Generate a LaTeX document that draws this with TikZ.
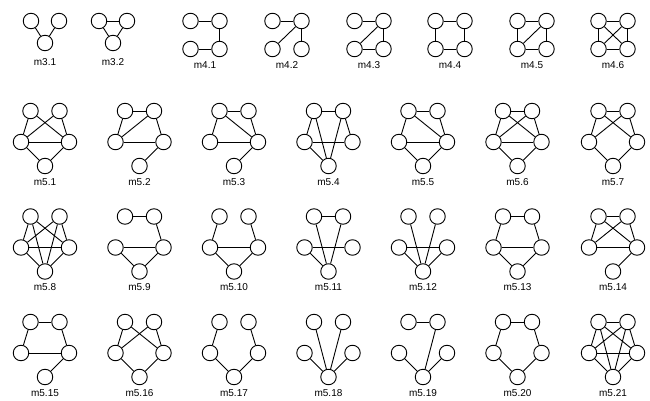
\documentclass[tikz,border=0pt]{standalone}
\usepackage{fontspec}
\setmainfont{Liberation Sans}
\usepackage{tikz}

% three, four and five vertex motifs: name, x, (top y), label
\newcommand{\triad}[3]{
\node[vtx] (#1a) at (#2-14,21) {};
\node[vtx] (#1b) at (#2+14,21) {};
\node[vtx] (#1c) at (#2,43) {};
\node[lbl] (#1l) at (#2,62) {#3};}
\newcommand{\tetrad}[3]{
\node[vtx] (#1a) at (#2-14.5,21) {};
\node[vtx] (#1b) at (#2+14.5,21) {};
\node[vtx] (#1c) at (#2-14.5,49) {};
\node[vtx] (#1d) at (#2+14.5,49) {};
\node[lbl] (#1l) at (#2,65) {#3};}
\newcommand{\pentad}[4]{
\node[vtx] (#1a) at (#2-14.5,#3) {};
\node[vtx] (#1b) at (#2+14.5,#3) {};
\node[vtx] (#1c) at (#2-24,#3+31) {};
\node[vtx] (#1d) at (#2+24,#3+31) {};
\node[vtx] (#1e) at (#2,#3+55) {};
\node[lbl] (#1l) at (#2,#3+71) {#4};}
\newcommand{\links}[2]{\foreach \u/\v in {#2} \draw[edge] (#1\u) -- (#1\v);}

\begin{document}
\begin{tikzpicture}[x=1pt,y=-1pt,
  vtx/.style={circle,draw,fill=white,line width=0.9pt,minimum size=15.5pt,inner sep=0pt},
  lbl/.style={font=\fontsize{10}{11}\selectfont,inner sep=0pt},
  edge/.style={line width=0.9pt}]
\useasboundingbox (0,0) rectangle (650,401);

\triad{m3p1}{45}{m3.1}
\triad{m3p2}{113}{m3.2}
\links{m3p1}{a/c,b/c}
\links{m3p2}{a/b,a/c,b/c}

\tetrad{m4p1}{205}{m4.1}
\tetrad{m4p2}{287}{m4.2}
\tetrad{m4p3}{369}{m4.3}
\tetrad{m4p4}{450}{m4.4}
\tetrad{m4p5}{532}{m4.5}
\tetrad{m4p6}{613}{m4.6}
\links{m4p1}{a/b,b/d,c/d}
\links{m4p2}{a/b,b/c,b/d}
\links{m4p3}{a/b,b/c,b/d,c/d}
\links{m4p4}{a/b,b/d,d/c,c/a}
\links{m4p5}{a/b,a/c,b/c,b/d,c/d}
\links{m4p6}{a/b,a/c,a/d,b/c,b/d,c/d}

\pentad{m5p1}{45}{111}{m5.1}
\pentad{m5p2}{139.5}{111}{m5.2}
\pentad{m5p3}{234}{111}{m5.3}
\pentad{m5p4}{328.5}{111}{m5.4}
\pentad{m5p5}{423}{111}{m5.5}
\pentad{m5p6}{517.5}{111}{m5.6}
\pentad{m5p7}{613}{111}{m5.7}
\links{m5p1}{a/c,b/d,a/d,b/c,c/d,c/e,d/e}
\links{m5p2}{a/b,a/c,b/c,b/d,c/d,d/e}
\links{m5p3}{a/b,a/c,a/d,b/d,c/d,d/e}
\links{m5p4}{a/b,a/c,a/e,b/e,b/d,c/d,c/e}
\links{m5p5}{a/b,a/c,a/d,b/d,c/d,c/e,d/e}
\links{m5p6}{a/b,a/c,a/d,b/c,b/d,c/d,c/e,d/e}
\links{m5p7}{a/b,a/c,a/d,b/c,b/d,c/e,d/e}

\pentad{m5p8}{45}{216.5}{m5.8}
\pentad{m5p9}{139.5}{216.5}{m5.9}
\pentad{m5p10}{234}{216.5}{m5.10}
\pentad{m5p11}{328.5}{216.5}{m5.11}
\pentad{m5p12}{423}{216.5}{m5.12}
\pentad{m5p13}{517.5}{216.5}{m5.13}
\pentad{m5p14}{613}{216.5}{m5.14}
\links{m5p8}{a/c,a/d,a/e,b/c,b/d,b/e,c/d,c/e,d/e}
\links{m5p9}{a/b,b/d,c/d,c/e,d/e}
\links{m5p10}{a/c,b/d,c/d,c/e,d/e}
\links{m5p11}{a/b,a/e,b/e,c/d,c/e}
\links{m5p12}{a/e,b/e,c/d,c/e,d/e}
\links{m5p13}{a/b,a/c,b/d,c/d,c/e,d/e}
\links{m5p14}{a/b,a/c,a/d,b/c,b/d,c/d,d/e}

\pentad{m5p15}{45}{322}{m5.15}
\pentad{m5p16}{139.5}{322}{m5.16}
\pentad{m5p17}{234}{322}{m5.17}
\pentad{m5p18}{328.5}{322}{m5.18}
\pentad{m5p19}{423}{322}{m5.19}
\pentad{m5p20}{517.5}{322}{m5.20}
\pentad{m5p21}{613}{322}{m5.21}
\links{m5p15}{a/b,a/c,b/d,c/d,d/e}
\links{m5p16}{a/c,a/d,b/c,b/d,c/e,d/e}
\links{m5p17}{a/c,b/d,c/e,d/e}
\links{m5p18}{a/e,b/e,c/e,d/e}
\links{m5p19}{a/b,b/e,c/e,d/e}
\links{m5p20}{a/b,a/c,b/d,c/e,d/e}
\links{m5p21}{a/b,a/c,a/d,a/e,b/c,b/d,b/e,c/d,c/e,d/e}
\end{tikzpicture}
\end{document}
